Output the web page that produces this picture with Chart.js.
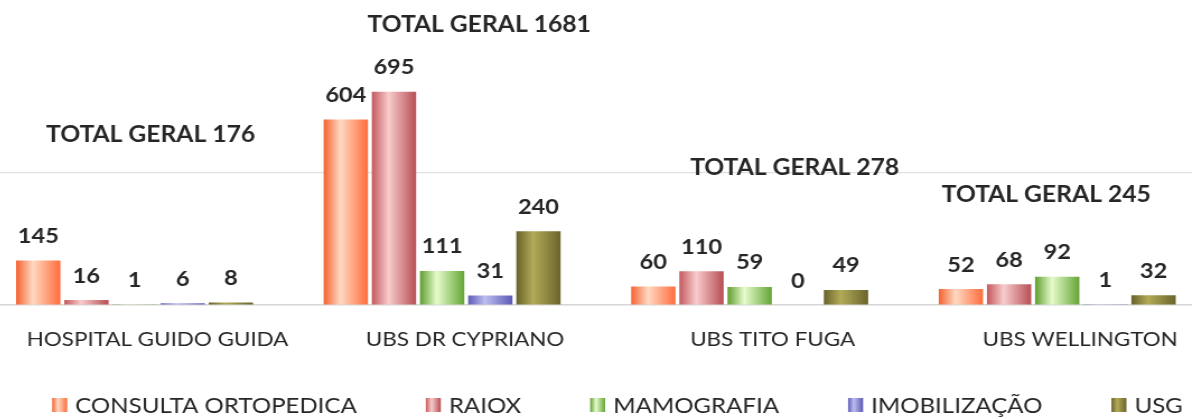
<!DOCTYPE html>
<html>
<head>
<meta charset="utf-8">
<script src="https://cdn.jsdelivr.net/npm/chart.js@4"></script>
<style>
  html, body { margin: 0; padding: 0; background: #fff; overflow: hidden; }
  #chart { position: absolute; left: -22px; top: 0; }
</style>
</head>
<body>
<!-- the source image is a horizontally stretched export; render narrower and stretch with css -->
<canvas id="chart" width="1101" height="419" style="width:1233px;height:419px"></canvas>
<script>
'use strict';

// ── Data ──────────────────────────────────────────────
const categories   = ['HOSPITAL GUIDO GUIDA', 'UBS DR CYPRIANO', 'UBS TITO FUGA', 'UBS WELLINGTON'];
const seriesNames  = ['CONSULTA ORTOPEDICA', 'RAIOX', 'MAMOGRAFIA', 'IMOBILIZAÇÃO', 'USG'];
const consulta     = [145, 604, 60, 52];
const raiox        = [16, 695, 110, 68];
const mamografia   = [1, 111, 59, 92];
const imobilizacao = [6, 31, 0, 1];
const usg          = [8, 240, 49, 32];
const totalPrefix  = 'TOTAL GERAL ';

// ── Look ──────────────────────────────────────────────
const STRETCH = 1233 / 1101;   // css width / canvas width
// cylinder-ish fill per series: [left edge, highlight, right edge]
const seriesShades = [
  ['#f4622f', '#ffd9c2', '#ff6d3c'],
  ['#c4585d', '#f8cccd', '#b74e53'],
  ['#5f9e2f', '#e6fccc', '#64a535'],
  ['#5d5db8', '#bdbdf0', '#5a5ab5'],
  ['#68622a', '#b3ab58', '#6a642c'],
];
// "TOTAL GERAL" boxes: [dx from group centre (page px), y]
const totalLabelPos = [[15, 135], [36, 25], [44, 168], [-12, 195]];

const TEXT = '#262626';
const FONT = 'Lato, "Open Sans", sans-serif';

function shadeFill(ctx, left, width, shades) {
  const g = ctx.createLinearGradient(left, 0, left + width, 0);
  g.addColorStop(0, shades[0]);
  g.addColorStop(0.38, shades[1]);
  g.addColorStop(1, shades[2]);
  return g;
}

// ── Plugins ───────────────────────────────────────────
const barShading = {
  id: 'barShading',
  beforeDatasetsDraw(chart) {
    const ctx = chart.ctx;
    chart.data.datasets.forEach((ds, i) => {
      chart.getDatasetMeta(i).data.forEach(el => {
        const left = el.x - el.width / 2;
        el.options = Object.assign({}, el.options, {
          backgroundColor: shadeFill(ctx, left, el.width, seriesShades[i]),
        });
      });
    });
  },
};

const valueLabels = {
  id: 'valueLabels',
  afterDatasetsDraw(chart) {
    const ctx = chart.ctx;
    ctx.save();
    ctx.font = 'bold 21px ' + FONT;
    ctx.fillStyle = TEXT;
    ctx.textAlign = 'center';
    ctx.textBaseline = 'alphabetic';
    chart.data.datasets.forEach((ds, i) => {
      chart.getDatasetMeta(i).data.forEach((el, j) => {
        ctx.fillText(String(ds.data[j]), el.x, el.y - 17.5);
      });
    });
    ctx.restore();
  },
};

const totalLabels = {
  id: 'totalLabels',
  afterDraw(chart) {
    const ctx = chart.ctx;
    const x = chart.scales.x;
    ctx.save();
    ctx.font = 'bold 22px ' + FONT;
    ctx.fillStyle = TEXT;
    ctx.textAlign = 'center';
    ctx.textBaseline = 'middle';
    categories.forEach((c, j) => {
      const sum = chart.data.datasets.reduce((s, ds) => s + ds.data[j], 0);
      const [dx, y] = totalLabelPos[j];
      ctx.fillText(totalPrefix + sum, x.getPixelForValue(j) + (dx + 1) / STRETCH, y);
    });
    ctx.restore();
  },
};

const bottomLegend = {
  id: 'bottomLegend',
  afterDraw(chart) {
    const ctx = chart.ctx;
    const box = 15 / STRETCH, gapText = 8 / STRETCH, gapItem = 69 / STRETCH, cy = 405;
    ctx.save();
    ctx.font = '21.5px ' + FONT;
    const widths = seriesNames.map(n => box + gapText + ctx.measureText(n).width);
    const total = widths.reduce((a, b) => a + b, 0) + gapItem * (widths.length - 1);
    let x = (617.5 + 22) / STRETCH - total / 2;
    ctx.textBaseline = 'middle';
    ctx.textAlign = 'left';
    seriesNames.forEach((n, i) => {
      ctx.fillStyle = shadeFill(ctx, x, box, seriesShades[i]);
      ctx.fillRect(x, cy - 7, box, 14);
      ctx.fillStyle = TEXT;
      ctx.fillText(n, x + box + gapText, cy + 1);
      x += widths[i] + gapItem;
    });
    ctx.restore();
  },
};

// ── Chart ─────────────────────────────────────────────
const seriesValues = [consulta, raiox, mamografia, imobilizacao, usg];

new Chart(document.getElementById('chart'), {
  type: 'bar',
  data: {
    labels: categories,
    datasets: seriesValues.map((vals, i) => ({
      label: seriesNames[i],
      data: vals,
      backgroundColor: seriesShades[i][0],
      borderWidth: 0,
      categoryPercentage: 0.783,
      barPercentage: 0.92,
    })),
  },
  options: {
    responsive: false,
    devicePixelRatio: 1,
    animation: false,
    layout: { padding: { top: 41, bottom: 0, left: 0, right: 0 } },
    plugins: { legend: { display: false }, tooltip: { enabled: false } },
    scales: {
      x: {
        grid: { display: false, drawTicks: false },
        border: { display: true, color: '#d6d6d6', width: 1.5 },
        ticks: {
          color: TEXT,
          font: { family: FONT, size: 20 },
          padding: 23,
          labelOffset: 23 / STRETCH,
          maxRotation: 0,
          autoSkip: false,
        },
        afterFit: s => { s.height = 114; },
      },
      y: {
        min: 0,
        max: 860,
        z: 1,
        afterBuildTicks: s => { s.ticks = [{ value: 0 }, { value: 430 }, { value: 860 }]; },
        afterFit: s => { s.width = 0; },
        ticks: { display: false },
        border: { display: false },
        grid: {
          drawTicks: false,
          color: c => (c.tick && c.tick.value === 430 ? 'rgba(0,0,0,0.12)' : 'rgba(0,0,0,0)'),
          lineWidth: 1.2,
        },
      },
    },
  },
  plugins: [barShading, valueLabels, totalLabels, bottomLegend],
});
</script>
</body>
</html>
